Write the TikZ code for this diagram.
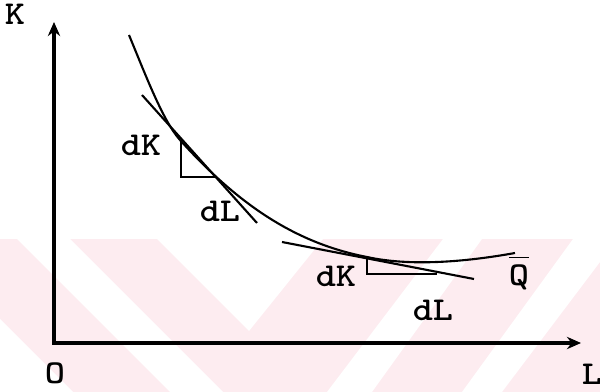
\documentclass[tikz,border=0pt]{standalone}
\usepackage{amsmath}
\usepackage{graphicx}
\usepackage{tikz}
\usetikzlibrary{positioning}
\usetikzlibrary{calc,arrows.meta}
\usepackage{xcolor}
\definecolor{wmpink}{RGB}{253,236,240}
\newcommand{\tw}[1]{\scalebox{1.15}[1]{#1}}

\begin{document}
\begin{tikzpicture}[>={Stealth[length=8pt,width=7pt]},x=0.02cm,y=-0.02cm,
  ax/.style={<->,line width=1.8pt},
  ln/.style={line width=1.2pt},
  lbl/.style={font=\ttfamily\bfseries\fontsize{19}{21}\selectfont,inner sep=0pt,anchor=base}]
  \useasboundingbox (0,0) rectangle (600,392);
  % watermark stripes
  \fill[wmpink] (0,239) rectangle (600,392);
  \fill[white] (0,319) -- (73,392) -- (0,392) -- cycle;
  \fill[white] (17,239) -- (70,239) -- (223,392) -- (170,392) -- cycle;
  \fill[white] (157,239) -- (323,239) -- (249,331) -- cycle;
  \fill[white] (443,239) -- (482,239) -- (372,392) -- (327,392) -- cycle;
  \fill[white] (573,239) -- (600,239) -- (600,262) -- (502,392) -- (462,392) -- cycle;
  % axes
  \coordinate (o) at (54,343);
  \coordinate (ktop) at (54,22);
  \coordinate (lend) at (581,343);
  \draw[ax] (ktop) -- (o) -- (lend);
  \node[lbl] (K) at (15,25) {\tw{K}};
  \node[lbl] (O) at (55,384) {\tw{O}};
  \node[lbl] (L) at (592,385) {\tw{L}};
  % isoquant
  \draw[ln] (129,35) .. controls (146,76) and (163,121) .. (180,140)
    .. controls (235,201) and (292,242.5) .. (367,257)
    .. controls (410,266.5) and (465,262) .. (515,253);
  \node[lbl] (Q) at (519,286) {$\overline{\mbox{\tw{Q}}\rule{0pt}{0.72em}}$};
  % first tangent
  \coordinate (ta1) at (142,95);
  \coordinate (tb1) at (257,223);
  \draw[ln] (ta1) -- (tb1);
  \coordinate (p1) at (181,140);
  \coordinate (c1) at (181,177);
  \coordinate (q1) at (215,177);
  \draw[ln] (p1) -- (c1) -- (q1);
  \node[lbl] (dK1) at (141,155) {\tw{dK}};
  \node[lbl] (dL1) at (220,222) {\tw{dL}};
  % second tangent
  \coordinate (ta2) at (282,242);
  \coordinate (tb2) at (474,279);
  \draw[ln] (ta2) -- (tb2);
  \coordinate (p2) at (367,257);
  \coordinate (c2) at (367,274);
  \coordinate (q2) at (437,274);
  \draw[ln] (p2) -- (c2) -- (q2);
  \node[lbl] (dK2) at (336,287) {\tw{dK}};
  \node[lbl] (dL2) at (433,320) {\tw{dL}};
\end{tikzpicture}
\end{document}
